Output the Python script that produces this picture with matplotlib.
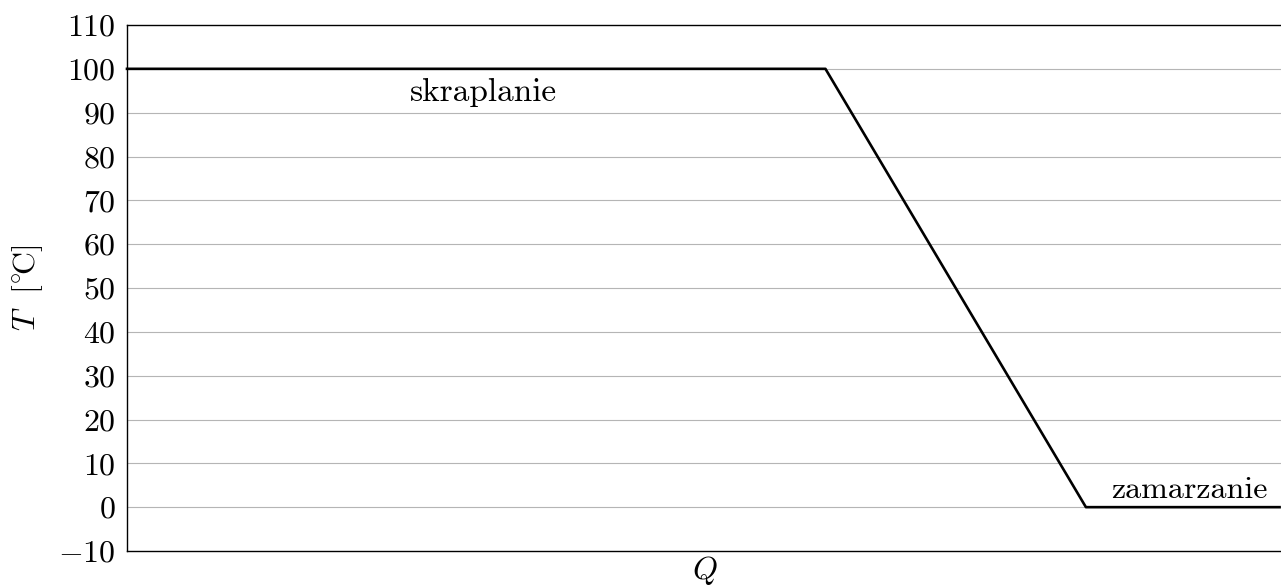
import numpy as np
import matplotlib
matplotlib.use("Agg")
import matplotlib.pyplot as plt

plt.rcParams['font.family'] = 'serif'
plt.rcParams['font.serif'] = ['cmr10', 'DejaVu Serif']
plt.rcParams['mathtext.fontset'] = 'cm'
plt.rcParams['axes.formatter.use_mathtext'] = True

# Data: heat Q (arbitrary units) vs temperature
Q = [0, 6.06, 8.32, 10]
T = [100, 100, 0, 0]
y_ticks = list(range(-10, 111, 10))

fig = plt.figure(figsize=(12.81, 5.86), dpi=100)
ax = fig.add_axes([127 / 1281, 35 / 586, 1156 / 1281, 526 / 586])

for yt in y_ticks[1:-1]:
    ax.axhline(yt, color='#b5b5b5', linewidth=0.8, zorder=1)

ax.plot(Q, T, color='black', linewidth=1.9, zorder=3, clip_on=False)

ax.set_xlim(0, 10.03)
ax.set_ylim(-10, 110)
ax.set_yticks(y_ticks)
ax.set_xticks([])
ax.tick_params(axis='y', length=0, labelsize=23, pad=8)

ax.text(3.09, 94.5, 'skraplanie', fontsize=24, ha='center', va='center')
ax.text(9.22, 3.8, 'zamarzanie', fontsize=23, ha='center', va='center')

ax.set_ylabel(r'$T\ \ [^{\circ}\!\mathrm{C}]$', fontsize=23, labelpad=10)
ax.set_xlabel(r'$Q$', fontsize=23, labelpad=2)

for s in ax.spines.values():
    s.set_linewidth(1.0)

fig.savefig('out.png', dpi=100)
